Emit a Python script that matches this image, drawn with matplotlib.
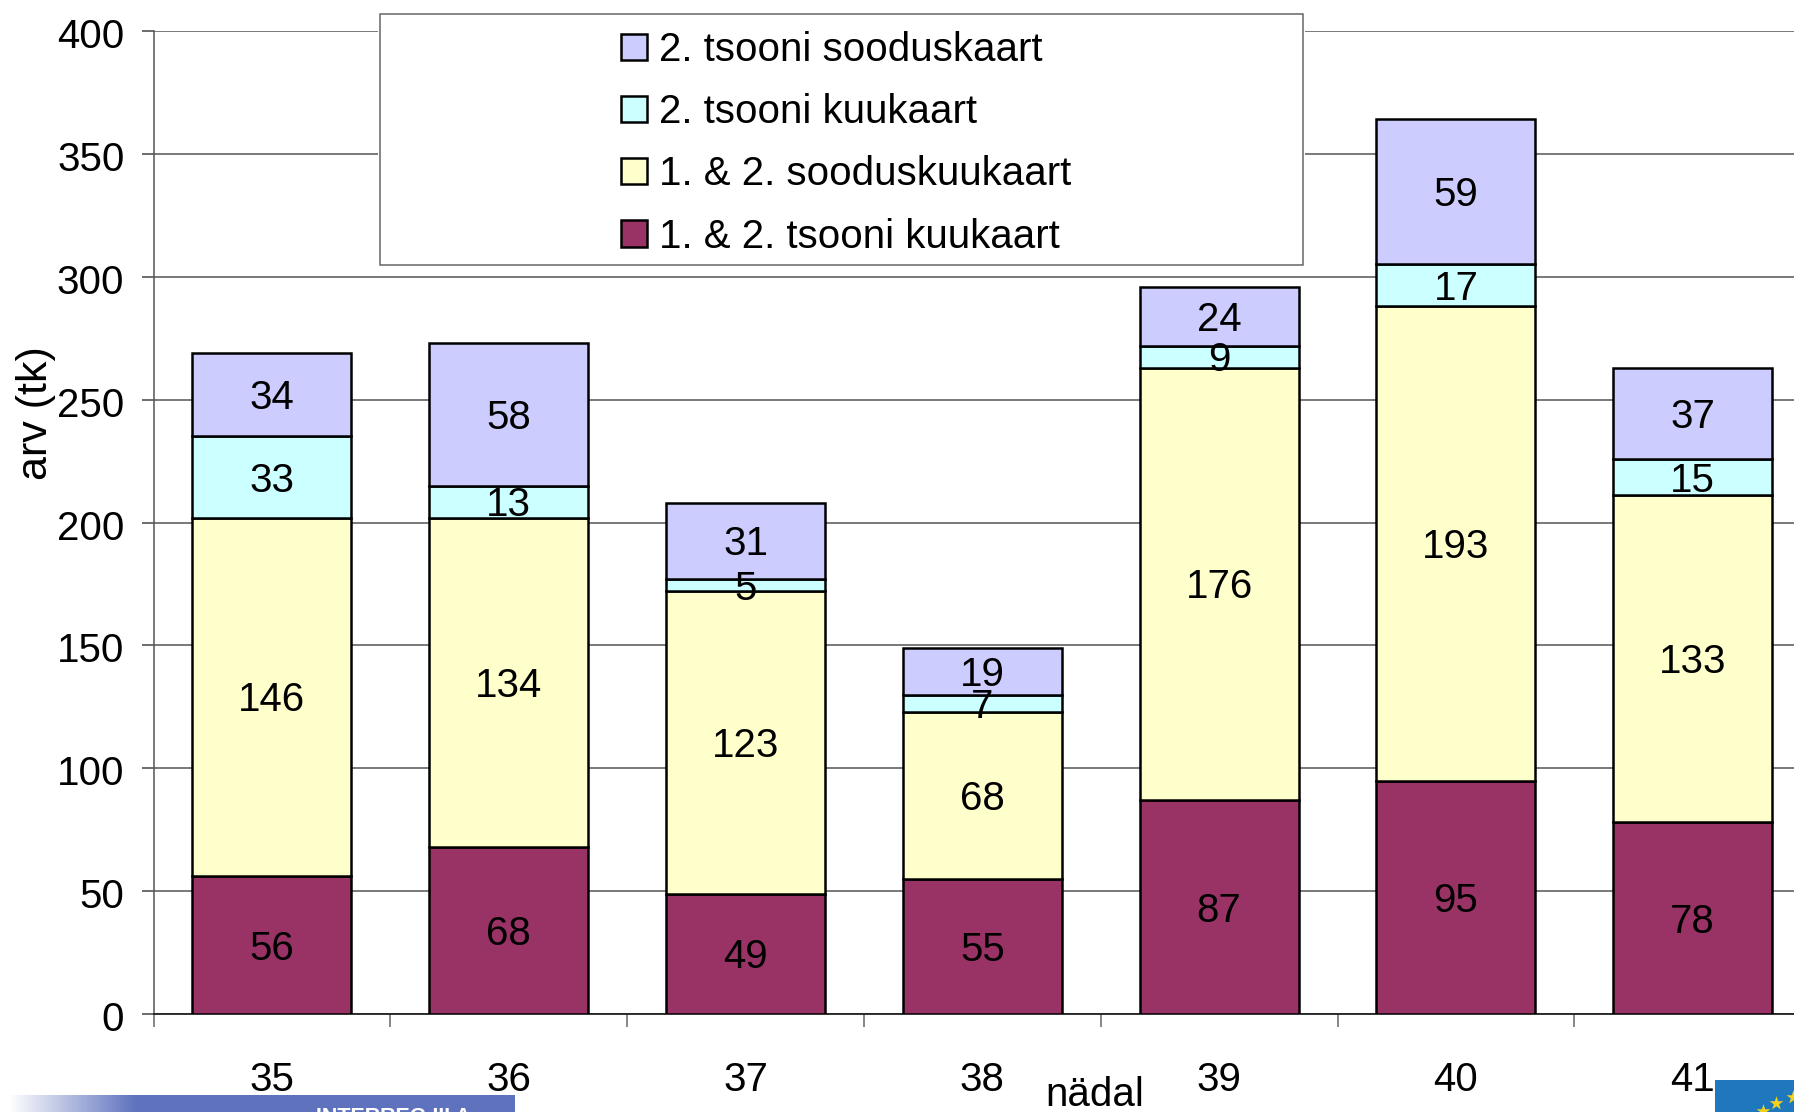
import numpy as np
import matplotlib
matplotlib.use('Agg')
import matplotlib.pyplot as plt
from matplotlib.patches import Rectangle
from matplotlib.transforms import ScaledTranslation

plt.rcParams['font.family'] = ['Liberation Sans', 'DejaVu Sans']

W, H = 1794, 1112

weeks = ['35', '36', '37', '38', '39', '40', '41']
zone12_month = [56, 68, 49, 55, 87, 95, 78]
zone12_discount = [146, 134, 123, 68, 176, 193, 133]
zone2_month = [33, 13, 5, 7, 9, 17, 15]
zone2_discount = [34, 58, 31, 19, 24, 59, 37]

series = [
    ('1. & 2. tsooni kuukaart', zone12_month, '#993366'),
    ('1. & 2. sooduskuukaart', zone12_discount, '#FFFFCC'),
    ('2. tsooni kuukaart', zone2_month, '#CCFFFF'),
    ('2. tsooni sooduskaart', zone2_discount, '#CCCCFF'),
]
yticks = [0, 50, 100, 150, 200, 250, 300, 350, 400]

FS = 29

fig = plt.figure(figsize=(W / 100, H / 100), dpi=100)
ax_left, ax_right = 153.5, W
y0, y400 = 1014, 31
ax = fig.add_axes([ax_left / W, 1 - y0 / H, (ax_right - ax_left) / W, (y0 - y400) / H])

x = np.arange(len(weeks))
bottom = np.zeros(len(weeks))
handles = []
for label, vals, col in series:
    bars = ax.bar(x, vals, 0.672, bottom=bottom, color=col, edgecolor='black',
                  linewidth=1.8, label=label, zorder=3)
    for ann in ax.bar_label(bars, label_type='center', fontsize=FS, color='black', zorder=5):
        ann.xyann = (0, -2.5)
    bottom += np.array(vals)
    handles.append(bars)

ax.set_ylim(0, 400)
ax.set_yticks(yticks)
ax.tick_params(axis='y', labelsize=FS, length=9, width=1.1, color='#444444', pad=12)
ax.set_xticks(np.arange(len(weeks) + 1) - 0.5)
ax.set_xticklabels([])
ax.tick_params(axis='x', length=9, width=1.1, color='#666666')
# after set_xticks, the last tick is past the picture edge
ax.set_xlim(-0.5, -0.5 + (ax_right - ax_left) / 236.8)
ax.grid(axis='y', color='#555555', linewidth=1.1, zorder=0)
ax.set_axisbelow(True)
for s in ['top', 'right']:
    ax.spines[s].set_visible(False)
ax.spines['left'].set_color('#555555')
ax.spines['left'].set_linewidth(1.1)
ax.spines['bottom'].set_color('#222222')
ax.spines['bottom'].set_linewidth(1.3)

shift = ScaledTranslation(0, -2 / 100, fig.dpi_scale_trans)
for t in ax.get_yticklabels():
    t.set_transform(t.get_transform() + shift)

# week labels sit well below the axis
for xi, w in zip(x, weeks):
    ax.annotate(w, (xi, 0), xycoords=('data', 'axes fraction'), xytext=(0, -66 * 0.72),
                textcoords='offset points', ha='center', va='center', fontsize=FS)

fig.text(1095 / W, 1 - 1095 / H, 'nädal', ha='center', va='center', fontsize=FS)
fig.text(36 / W, 1 - 413 / H, 'arv (tk)', rotation=90, ha='center', va='center', fontsize=31)

# legend box, white margin hides the gridlines around it
fig.add_artist(Rectangle((378 / W, 1 - 267 / H), 927 / W, 255 / H, transform=fig.transFigure,
                         facecolor='white', edgecolor='none', zorder=6))
leg = ax.legend(handles[::-1], [s[0] for s in series[::-1]], loc='upper left',
                bbox_to_anchor=(380 / W, 1 - 14 / H), bbox_transform=fig.transFigure,
                fontsize=FS, frameon=False, handlelength=0.64, handleheight=0.64,
                handletextpad=0.3, labelspacing=0.6, borderaxespad=0, borderpad=0)
fig.add_artist(Rectangle((380 / W, 1 - 265 / H), 923 / W, 251 / H, transform=fig.transFigure,
                         facecolor='none', edgecolor='#666666', linewidth=1.1, zorder=7))
leg.set_zorder(8)
leg.remove()
fig.add_artist(leg)
leg.set_bbox_to_anchor((621 / W, 1 - 31 / H), transform=fig.transFigure)

# banner strip at the bottom left
strip = fig.add_axes([8 / W, 0, (515 - 8) / W, (H - 1095) / H], zorder=9)
strip.axis('off')
grad = np.ones((1, 200, 3))
stop = 50
blue = np.array([0x5E, 0x72, 0xBE]) / 255
t = np.clip(np.arange(200) / stop, 0, 1)[:, None]
grad[0] = (1 - t) * 1 + t * blue
strip.imshow(grad, aspect='auto', extent=(0, 1, 0, 1))
fig.text(393 / W, 1 - 1123 / H, 'INTERREG III A', color='white', ha='center', va='baseline',
         fontsize=15.5, fontweight='bold', zorder=10)

# EU flag corner
flag = fig.add_axes([1715 / W, 0, (W - 1715) / W, (H - 1080) / H], zorder=9)
flag.axis('off')
flag.set_xlim(1715, W)
flag.set_ylim(H, 1080)
flag.add_patch(Rectangle((1715, 1080), W - 1715, 32, facecolor='#1F78BE', edgecolor='none'))
star_x = [1776, 1793, 1763]
star_y = [1103, 1097, 1111]
flag.scatter(star_x, star_y, marker='*', s=110, color='#F2D21A', linewidths=0, clip_on=True)

fig.savefig('out.png', dpi=100)
